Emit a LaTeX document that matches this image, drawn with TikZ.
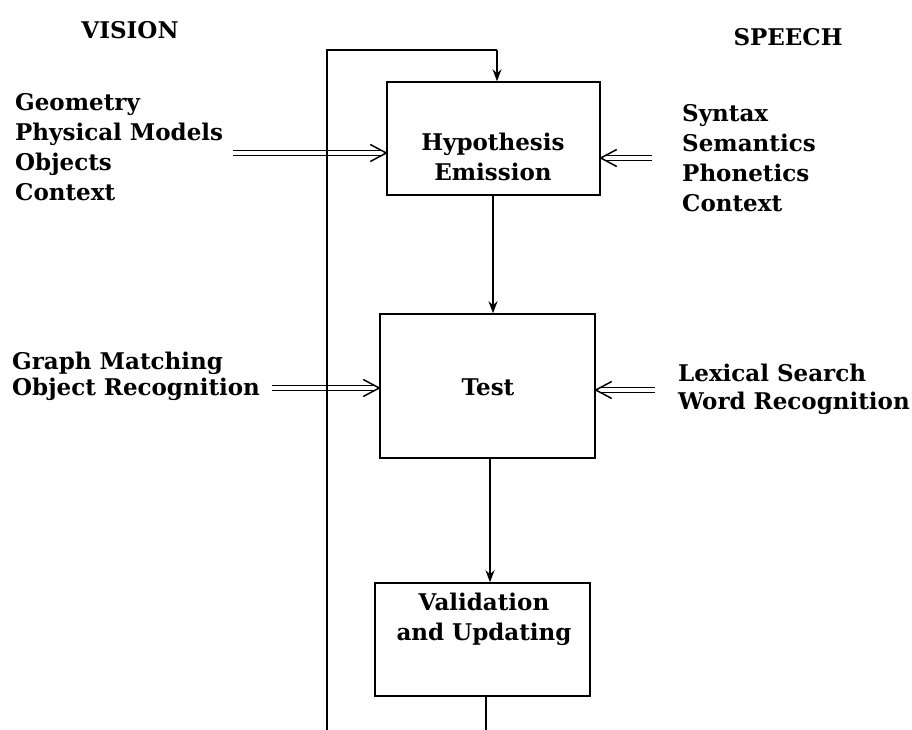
\documentclass[tikz,border=0pt]{standalone}
\usepackage{fontspec}
\setmainfont{DejaVu Serif}
\usetikzlibrary{arrows.meta,calc}
\newcommand{\dblarrow}[3]{%
  \draw[feedline] ($(#1)+(0,-2.6)$) -- ($(#2)+(#3*-4,-2.6)$);
  \draw[feedline] ($(#1)+(0,2.6)$) -- ($(#2)+(#3*-4,2.6)$);
  \draw[feedhead] ($(#2)+(#3*-16,-8.5)$) -- (#2) -- ($(#2)+(#3*-16,8.5)$);}
\begin{document}
\begin{tikzpicture}[x=1pt,y=-1pt,
  lbl/.style={font=\bfseries\fontsize{23}{30}\selectfont, align=left, inner sep=0pt, anchor=west},
  boxtext/.style={font=\bfseries\fontsize{23}{30}\selectfont, align=center, inner sep=0pt},
  stagebox/.style={draw, line width=1.5pt, minimum width=#1, inner sep=0pt},
  flow/.style={line width=1.4pt, -{Stealth[length=12pt,width=9pt]}},
  feedline/.style={line width=1.1pt},
  feedhead/.style={line width=1.5pt, line join=miter},
  loopline/.style={line width=1.5pt}
]
\useasboundingbox (0,0) rectangle (912,730);

% headings
\node[boxtext] (vision) at (130,30) {VISION};
\node[boxtext] (speech) at (788,37) {SPEECH};

% boxes
\node[stagebox=213pt, minimum height=113pt] (hyp) at (493.5,138.5) {};
\node[stagebox=215pt, minimum height=144pt] (test) at (487.5,386) {};
\node[stagebox=215pt, minimum height=113pt] (val) at (482.5,639.5) {};

\node[boxtext] (hyptext) at (493,157) {Hypothesis\\Emission};
\node[boxtext] (testtext) at (488,387) {Test};
\node[boxtext] (valtext) at (484,619) {Validation\\and Updating};

% side texts
\node[lbl] (visk) at (15,147) {Geometry\\Physical Models\\Objects\\Context};
\node[lbl] (spk) at (682,158) {Syntax\\Semantics\\Phonetics\\Context};
\node[lbl, font=\bfseries\fontsize{23}{26}\selectfont] (vism) at (12,376) {Graph Matching\\Object Recognition};
\node[lbl, font=\bfseries\fontsize{23}{28}\selectfont] (spm) at (678,389) {Lexical Search\\Word Recognition};

% feed arrows
\coordinate (f1) at (233,153);
\coordinate (f2) at (652,158);
\coordinate (f3) at (272,388);
\coordinate (f4) at (655,390);
\coordinate (e1) at (f1 -| hyp.west);
\coordinate (e2) at (f2 -| hyp.east);
\coordinate (e3) at (f3 -| test.west);
\coordinate (e4) at (f4 -| test.east);
\dblarrow{f1}{e1}{1}
\dblarrow{f2}{e2}{-1}
\dblarrow{f3}{e3}{1}
\dblarrow{f4}{e4}{-1}

% flow arrows
\coordinate (a1) at (493,0);
\coordinate (a2) at (490,0);
\draw[flow] (a1 |- hyp.south) -- (a1 |- test.north);
\draw[flow] (a2 |- test.south) -- (a2 |- val.north);

% loop back
\coordinate (vb) at (486,730);
\coordinate (lb) at (327,730);
\coordinate (lt) at (327,50);
\coordinate (lr) at (497,50);
\draw[loopline] (vb |- val.south) -- (vb);
\draw[loopline] (lb) -- (lt) -- (lr);
\draw[flow] (lr) -- (lr |- hyp.north);
\end{tikzpicture}
\end{document}
